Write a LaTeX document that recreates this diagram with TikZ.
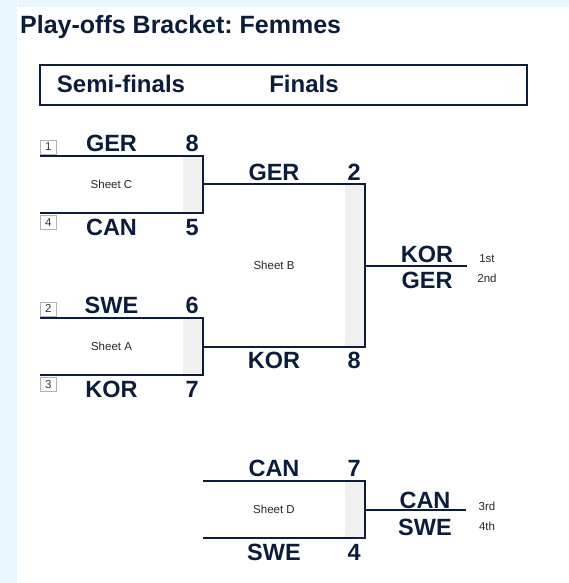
\documentclass[tikz,border=0pt]{standalone}
\usepackage{fontspec}
\setmainfont{Liberation Sans}
\usetikzlibrary{positioning}
\definecolor{navy}{HTML}{0B1D3A}
\definecolor{pale}{HTML}{EAF6FD}
\definecolor{sheetgray}{HTML}{F0F0F0}
\frenchspacing

\begin{document}
\begin{tikzpicture}[
  x=1pt, y=-1pt,
  title/.style={font=\fontsize{25}{28}\selectfont\bfseries,text=navy,inner sep=0pt},
  hdr/.style={font=\fontsize{24}{26}\selectfont\bfseries,text=navy,anchor=base,inner sep=0pt},
  team/.style={font=\fontsize{23.5}{25}\selectfont\bfseries,text=navy,anchor=base,inner sep=0pt},
  small/.style={font=\fontsize{11.5}{13}\selectfont,text=black!85,inner sep=0pt},
  seed/.style={draw=gray!60,fill=white,line width=0.8pt,minimum width=16pt,minimum height=14pt,inner sep=0pt,font=\fontsize{11.5}{12}\selectfont,text=black!80},
  match/.style={inner sep=0pt},
  line/.style={navy,line width=2pt},
]
\useasboundingbox (0,0) rectangle (569,583);
% page strips
\fill[pale] (0,0) rectangle (16.5,583);
\fill[pale] (18,0) rectangle (569,7);

\node[title,anchor=base west] (ttl) at (20,34) {Play-offs Bracket: Femmes};

% header box
\node[draw=navy,line width=2pt,minimum width=487pt,minimum height=40pt] (head) at (283.5,85) {};
\node[hdr] (semis) at (121,93) {Semi-finals};
\node[hdr] (finals) at (304,93) {Finals};

% ---- matches ----
\node[match,minimum width=163pt,minimum height=57pt] (mC) at (121.5,184.5) {};
\node[match,minimum width=163pt,minimum height=57pt] (mA) at (121.5,346.5) {};
\node[match,minimum width=162pt,minimum height=162pt] (mB) at (284,265.5) {};
\node[match,minimum width=162pt,minimum height=57pt] (mD) at (284,509.5) {};

\foreach \m/\sh/\ta/\sa/\tb/\sb in {mC/C/GER/8/CAN/5, mA/A/SWE/6/KOR/7, mB/B/GER/2/KOR/8, mD/D/CAN/7/SWE/4}{
  \fill[sheetgray] ([xshift=-20pt]\m.north east) rectangle (\m.south east);
  \draw[line] (\m.north west) -- (\m.north east) -- (\m.south east) -- (\m.south west);
  \node[small] (\m-sheet) at ([xshift=-10pt]\m.center) {Sheet \sh};
  \node[team] (\m-ta) at ([xshift=-10pt,yshift=4pt]\m.north) {\ta};
  \node[team] (\m-sa) at ([xshift=-11pt,yshift=4pt]\m.north east) {\sa};
  \node[team] (\m-tb) at ([xshift=-10pt,yshift=-22pt]\m.south) {\tb};
  \node[team] (\m-sb) at ([xshift=-11pt,yshift=-22pt]\m.south east) {\sb};
}

% seeds
\node[seed,anchor=south west] (s1) at ([yshift=1.5pt]mC.north west) {1};
\node[seed,anchor=north west] (s4) at ([yshift=-1.5pt]mC.south west) {4};
\node[seed,anchor=south west] (s2) at ([yshift=1.5pt]mA.north west) {2};
\node[seed,anchor=north west] (s3) at ([yshift=-1.5pt]mA.south west) {3};

% ---- placings ----
\coordinate (gold) at (467,265.5);
\coordinate (bronze) at (466,509.5);
\draw[line] (mB.east) -- (gold);
\draw[line] (mD.east) -- (bronze);

\node[team] (p1) at (427,262) {KOR};
\node[team] (p2) at (427,288) {GER};
\node[small,anchor=base] (l1) at (487,262) {1st};
\node[small,anchor=base] (l2) at (487,282) {2nd};

\node[team] (p3) at (425,508) {CAN};
\node[team] (p4) at (425,535) {SWE};
\node[small,anchor=base] (l3) at (487,510) {3rd};
\node[small,anchor=base] (l4) at (487,530) {4th};
\end{tikzpicture}
\end{document}
